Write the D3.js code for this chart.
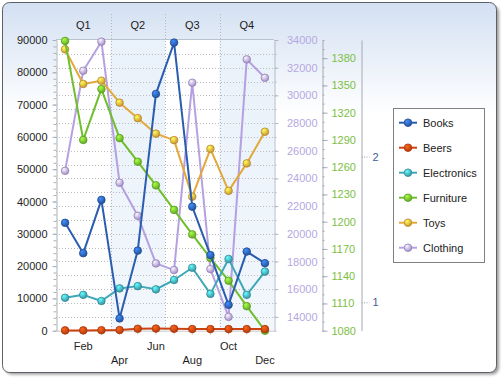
<!DOCTYPE html>
<html>
<head>
<meta charset="utf-8">
<script src="https://cdn.jsdelivr.net/npm/d3@7"></script>
<style>
  html, body { margin: 0; padding: 0; background: #ffffff; }
  svg { display: block; font-family: "Liberation Sans", Arial, sans-serif; }
</style>
</head>
<body>
<svg id="chart" width="503" height="378"></svg>
<script>
// ---------------- DATA ----------------
const months = ["Jan","Feb","Mar","Apr","May","Jun","Jul","Aug","Sep","Oct","Nov","Dec"];
const quarters = ["Q1","Q2","Q3","Q4"];
const seriesNames = ["Books","Beers","Electronics","Furniture","Toys","Clothing"];

const books       = [33400, 24000, 40500, 3800, 24800, 73300, 89200, 38400, 23400, 8000, 24500, 20900];
const beers       = [100, 100, 150, 200, 600, 650, 600, 500, 500, 500, 500, 500];
const electronics = [10200, 11100, 9200, 13100, 13800, 12800, 15700, 19500, 11400, 22200, 11100, 18300];
const furniture   = [1399, 1290, 1346, 1292, 1266, 1240, 1213, 1186, 1160, 1135, 1107, 1080];
const toys        = [87100, 76400, 77400, 70600, 65800, 61000, 59000, 41500, 56300, 43300, 51800, 61600];
const clothing    = [24550, 31780, 33880, 23690, 21300, 17860, 17380, 30910, 17450, 14000, 32600, 31270];

const mainTicks     = [0, 10000, 20000, 30000, 40000, 50000, 60000, 70000, 80000, 90000];
const clothingTicks = [14000, 16000, 18000, 20000, 22000, 24000, 26000, 28000, 30000, 32000, 34000];
const furnitureTicks= [1080, 1110, 1140, 1170, 1200, 1230, 1260, 1290, 1320, 1350, 1380];
const auxTicks      = [1, 2];

const colors = {
  Books: "#2a5db0", Beers: "#cc4210", Electronics: "#3fa8b8",
  Furniture: "#6fbf2c", Toys: "#e3a83a", Clothing: "#b5a0e2"
};

// ---------------- LAYOUT ----------------
const svg = d3.select("#chart");
const L = 56, R = 274, T = 40, B = 330.7;

const x = d3.scaleBand().domain(months).range([L, R]);
const xq = d3.scaleBand().domain(quarters).range([L, R]);
const cx = m => x(m) + x.bandwidth() / 2;

const yMain = d3.scaleLinear().domain([0, 90000]).range([B, T]);
const yCloth = d3.scaleLinear().domain([13000, 34000]).range([B, T]);
const yFurn = d3.scaleLinear().domain([1080, 1400]).range([B, T]);
const yAux = d3.scaleLinear().domain([0.805, 2.8]).range([B, T]);

const defs = svg.append("defs");
const bg = defs.append("linearGradient").attr("id", "bgGrad").attr("x1", 0).attr("y1", 0).attr("x2", 0).attr("y2", 1);
bg.append("stop").attr("offset", "0%").attr("stop-color", "#d3e0f2");
bg.append("stop").attr("offset", "30%").attr("stop-color", "#ffffff");
bg.append("stop").attr("offset", "100%").attr("stop-color", "#ffffff");

const band = defs.append("linearGradient").attr("id", "bandGrad").attr("x1", 0).attr("y1", 0).attr("x2", 0).attr("y2", 1);
band.append("stop").attr("offset", "0%").attr("stop-color", "#e9f1fa");
band.append("stop").attr("offset", "100%").attr("stop-color", "#f1f7fc");

const blur = defs.append("filter").attr("id", "shadow").attr("x", "-5%").attr("y", "-5%").attr("width", "110%").attr("height", "110%");
blur.append("feGaussianBlur").attr("stdDeviation", 1.6);

seriesNames.forEach(name => {
  const c = d3.color(colors[name]);
  const g = defs.append("radialGradient").attr("id", "mk-" + name)
    .attr("cx", "35%").attr("cy", "30%").attr("r", "70%");
  g.append("stop").attr("offset", "0%").attr("stop-color", c.brighter(1.2));
  g.append("stop").attr("offset", "100%").attr("stop-color", c.darker(0.3));
});

// Frame with shadow
svg.append("rect").attr("x", 5).attr("y", 5.5).attr("width", 494).attr("height", 369)
  .attr("rx", 7).attr("fill", "#9a9a9a").attr("filter", "url(#shadow)");
svg.append("rect").attr("x", 2.5).attr("y", 2.5).attr("width", 494).attr("height", 370)
  .attr("rx", 7).attr("fill", "url(#bgGrad)").attr("stroke", "#5d6066").attr("stroke-width", 1);

// Plot background & alternating quarter shading
svg.append("rect").attr("x", L).attr("y", T).attr("width", R - L).attr("height", B - T).attr("fill", "#ffffff");
svg.selectAll("rect.qband").data(quarters.filter((q, i) => i % 2 === 1)).join("rect")
  .attr("class", "qband")
  .attr("x", d => xq(d)).attr("y", T).attr("width", xq.bandwidth()).attr("height", B - T)
  .attr("fill", "url(#bandGrad)");

// Horizontal grid (clothing axis every 1000)
const gridVals = d3.range(14000, 34000, 1000);
svg.append("g").selectAll("line").data(gridVals).join("line")
  .attr("x1", L).attr("x2", R)
  .attr("y1", d => Math.round(yCloth(d)) + 0.5).attr("y2", d => Math.round(yCloth(d)) + 0.5)
  .attr("stroke", "#bdbdbd").attr("stroke-dasharray", "1,2");

// Vertical quarter separators
svg.append("g").selectAll("line").data(quarters.slice(1)).join("line")
  .attr("x1", d => Math.round(xq(d)) + 0.5).attr("x2", d => Math.round(xq(d)) + 0.5)
  .attr("y1", 14).attr("y2", B)
  .attr("stroke", "#b5b5b5").attr("stroke-dasharray", "1,2");

// Plot top border
svg.append("line").attr("x1", L).attr("x2", R).attr("y1", T - 0.5).attr("y2", T - 0.5)
  .attr("stroke", "#b9c3cf");

// Quarter labels
svg.append("g").selectAll("text").data(quarters).join("text")
  .attr("x", d => xq(d) + xq.bandwidth() / 2).attr("y", 29)
  .attr("text-anchor", "middle").attr("font-size", 11).attr("fill", "#222")
  .text(d => d);

// ---------------- AXES ----------------
function styleAxis(g, lineColor, textColor) {
  g.select(".domain").attr("stroke", lineColor);
  g.selectAll(".tick line").attr("stroke", lineColor);
  g.selectAll(".tick text").attr("fill", textColor).attr("font-size", 11)
    .attr("font-family", "'Liberation Sans', Arial, sans-serif");
}

// Main left axis (minor ticks)
svg.append("g").attr("transform", `translate(${L + 0.5},0)`)
  .call(d3.axisLeft(yMain).tickValues(d3.range(0, 90001, 2000)).tickSize(3).tickFormat(""))
  .call(g => { g.select(".domain").remove(); g.selectAll(".tick line").attr("stroke", "#b0b0b0"); });
const gMain = svg.append("g").attr("transform", `translate(${L + 0.5},0)`)
  .call(d3.axisLeft(yMain).tickValues(mainTicks).tickSize(4).tickSizeOuter(0).tickPadding(5).tickFormat(d => d));
styleAxis(gMain, "#a9b2bd", "#1e1e1e");

// Bottom month axis (ticks only, staggered labels)
svg.append("g").attr("transform", `translate(0,${B})`)
  .call(d3.axisBottom(x).tickSize(4).tickSizeOuter(0).tickFormat(""))
  .call(g => { g.select(".domain").attr("stroke", "#c8c8c8"); g.selectAll(".tick line").attr("stroke", "#cfcfcf"); });
svg.append("g").selectAll("text").data(months.filter((m, i) => i % 2 === 1)).join("text")
  .attr("x", d => cx(d))
  .attr("y", (d, i) => i % 2 === 0 ? 350 : 364)
  .attr("text-anchor", "middle").attr("font-size", 11).attr("fill", "#1e1e1e")
  .text(d => d);

// Clothing axis (right of plot)
svg.append("g").attr("transform", `translate(${R + 0.5},0)`)
  .call(d3.axisRight(yCloth).tickValues(d3.range(13000, 34001, 1000)).tickSize(2).tickFormat(""))
  .call(g => { g.select(".domain").remove(); g.selectAll(".tick line").attr("stroke", "#b8b8c8"); });
const gCloth = svg.append("g").attr("transform", `translate(${R + 0.5},0)`)
  .call(d3.axisRight(yCloth).tickValues(clothingTicks).tickSize(4).tickSizeOuter(0).tickPadding(10).tickFormat(d => d));
styleAxis(gCloth, "#b3b9c4", "#b6a8e2");
gCloth.selectAll(".tick text").attr("text-anchor", "end").attr("x", 43);

// Furniture axis
svg.append("g").attr("transform", `translate(322.5,0)`)
  .call(d3.axisRight(yFurn).tickValues(d3.range(1080, 1401, 10)).tickSize(2).tickFormat(""))
  .call(g => { g.select(".domain").remove(); g.selectAll(".tick line").attr("stroke", "#a8a8b0"); });
const gFurn = svg.append("g").attr("transform", `translate(322.5,0)`)
  .call(d3.axisRight(yFurn).tickValues(furnitureTicks).tickSize(5).tickSizeOuter(0).tickPadding(4).tickFormat(d => d));
styleAxis(gFurn, "#a4aab4", "#7cc043");

// Aux axis (1, 2)
const gAux = svg.append("g").attr("transform", `translate(361.5,0)`)
  .call(d3.axisRight(yAux).tickValues(auxTicks).tickSize(8).tickSizeOuter(0).tickPadding(3).tickFormat(d => d));
styleAxis(gAux, "#a4aab4", "#3f5d96");
gAux.selectAll(".tick line").attr("stroke-dasharray", "1,1.5").attr("stroke", "#9aa0aa");

// ---------------- SERIES ----------------
const data = {
  Books: { vals: books, y: yMain },
  Beers: { vals: beers, y: yMain },
  Electronics: { vals: electronics, y: yMain },
  Furniture: { vals: furniture, y: yFurn },
  Toys: { vals: toys, y: yMain },
  Clothing: { vals: clothing, y: yCloth }
};

const drawOrder = seriesNames.slice().reverse();
drawOrder.forEach(name => {
  const s = data[name];
  const pts = s.vals.map((v, i) => [cx(months[i]), s.y(v)]);
  const g = svg.append("g");
  g.append("path").attr("d", d3.line()(pts)).attr("fill", "none")
    .attr("stroke", colors[name]).attr("stroke-width", 2).attr("stroke-linejoin", "round");
  g.selectAll("circle").data(pts).join("circle")
    .attr("cx", d => d[0]).attr("cy", d => d[1]).attr("r", 3.8)
    .attr("fill", `url(#mk-${name})`)
    .attr("stroke", d3.color(colors[name]).darker(0.6)).attr("stroke-width", 0.8);
});

// ---------------- LEGEND ----------------
const lg = svg.append("g");
lg.append("rect").attr("x", 393.5).attr("y", 108.5).attr("width", 91).attr("height", 154)
  .attr("fill", "#ffffff").attr("stroke", "#808080");
const li = lg.selectAll("g.item").data(seriesNames).join("g").attr("class", "item")
  .attr("transform", (d, i) => `translate(0,${122.7 + i * 25})`);
li.append("line").attr("x1", 399).attr("x2", 417).attr("y1", 0).attr("y2", 0)
  .attr("stroke", d => colors[d]).attr("stroke-width", 2);
li.append("circle").attr("cx", 408).attr("cy", 0).attr("r", 3.8)
  .attr("fill", d => `url(#mk-${d})`).attr("stroke", d => d3.color(colors[d]).darker(0.6)).attr("stroke-width", 0.8);
li.append("text").attr("x", 423).attr("y", 4).attr("font-size", 11).attr("fill", "#222").text(d => d);
</script>
</body>
</html>
